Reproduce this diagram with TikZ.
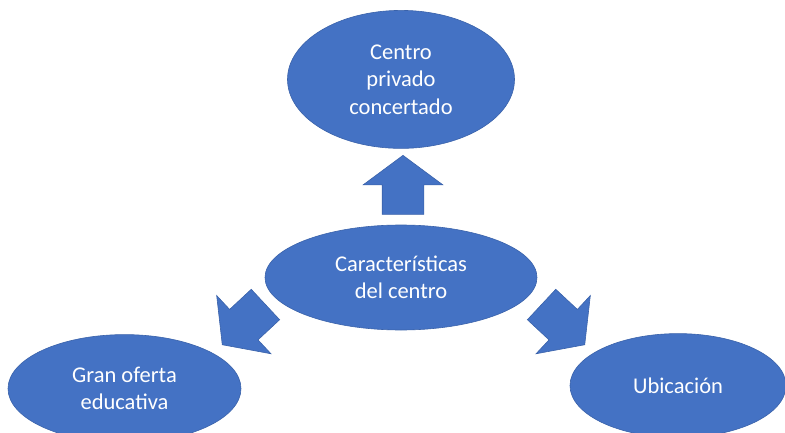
\documentclass[tikz,border=0pt]{standalone}
\usepackage{fontspec}
\setmainfont{Carlito}
\usepackage{xcolor}
\definecolor{colorBubble}{RGB}{68,114,196}
\definecolor{colorEdge}{RGB}{58,98,170}
\usepackage{tikz}
\usetikzlibrary{shapes.geometric, shapes.arrows, positioning}
\tikzset{bubble/.style={ellipse, fill=colorBubble, draw=colorEdge, line width=0.6pt, text=white, align=center, inner sep=0pt, font=\fontsize{22.5}{27.5}\selectfont},
  fatarrow/.style={single arrow, fill=colorBubble, draw=colorEdge, line width=0.6pt, inner xsep=0pt, inner ysep=20.5pt, minimum height=59pt, minimum width=79pt, single arrow head extend=19pt, single arrow tip angle=107, anchor=tip}}

\begin{document}
\begin{tikzpicture}[x=1pt, y=1pt]
\useasboundingbox (0,0) rectangle (785,432);
\node[bubble, minimum width=272pt, minimum height=105pt] (caract) at (401,154.5) {Características\\del centro};
\node[bubble, minimum width=227pt, minimum height=138pt, above=76pt of caract] (privado) {Centro\\privado\\concertado};
\node[bubble, minimum width=233pt, minimum height=108pt, below=4pt of caract, xshift=-276.5pt] (oferta) {Gran oferta\\educativa};
\node[bubble, minimum width=216pt, minimum height=104pt, below=3pt of caract, xshift=277pt] (ubicacion) {Ubicación};
\node[fatarrow, rotate=90] (toprivado) at (403,277) {};
\node[fatarrow, rotate=223] (tooferta) at (222,87) {};
\node[fatarrow, rotate=-43] (toubicacion) at (585,87) {};
\end{tikzpicture}
\end{document}
